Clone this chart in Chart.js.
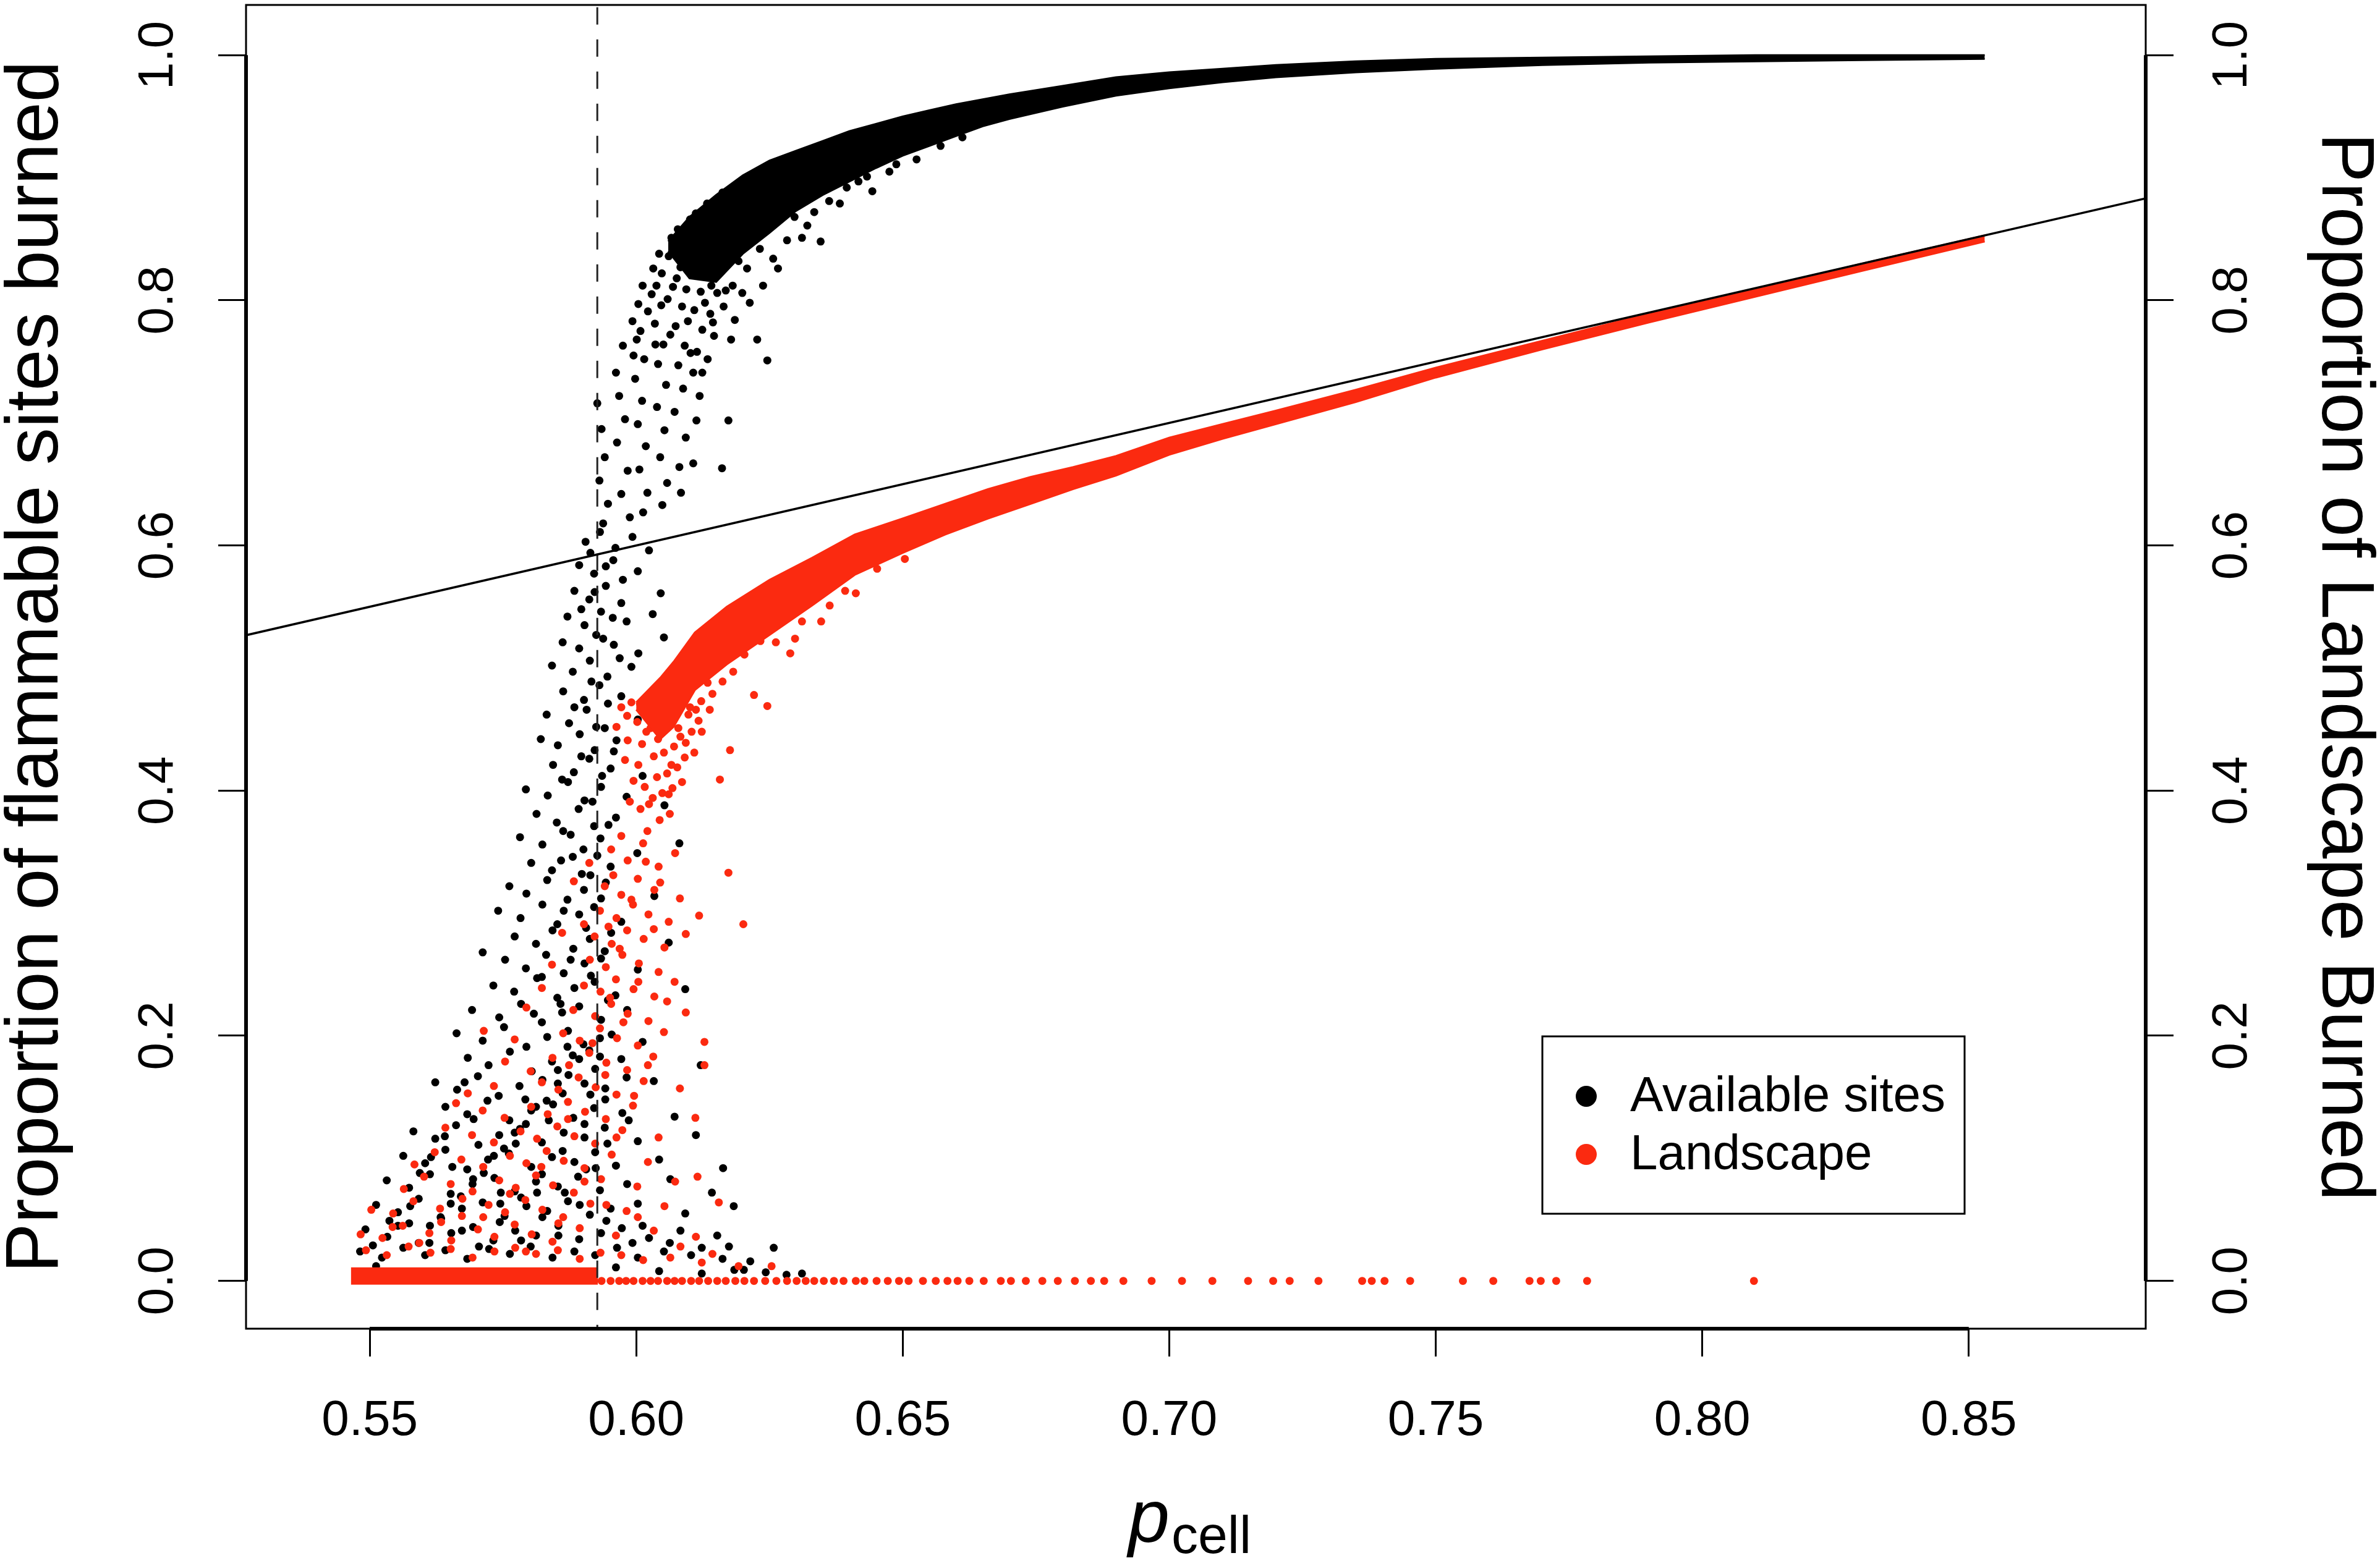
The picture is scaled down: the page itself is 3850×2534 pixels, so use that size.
<!DOCTYPE html>
<html>
<head>
<meta charset="utf-8">
<script src="https://cdn.jsdelivr.net/npm/chart.js@4.4.1/dist/chart.umd.min.js"></script>
<style>
  html, body { margin: 0; padding: 0; background: #fff; }
  canvas { display: block; }
</style>
</head>
<body>
<canvas id="percChart" width="3850" height="2534" style="width:3850px;height:2534px"></canvas>
<script>
// axis ticks
const xTickValues = [0.55, 0.60, 0.65, 0.70, 0.75, 0.80, 0.85];
const yTickValues = [0.0, 0.2, 0.4, 0.6, 0.8, 1.0];

// percolation threshold (dashed) and the 1:1 reference line
const pcThreshold = 0.5927;
const identityX = [0.52, 0.89];

// Available sites: dense upper band (edges)
const availBandX  = [0.606, 0.610, 0.615, 0.620, 0.625, 0.630, 0.635, 0.640, 0.645, 0.650, 0.655, 0.660, 0.665, 0.670, 0.680, 0.690, 0.700, 0.710, 0.720, 0.735, 0.750, 0.770, 0.790, 0.810, 0.830, 0.853];
const availBandHi = [0.848, 0.868, 0.886, 0.902, 0.914, 0.922, 0.930, 0.938, 0.944, 0.950, 0.955, 0.960, 0.964, 0.968, 0.975, 0.982, 0.986, 0.989, 0.992, 0.995, 0.997, 0.998, 0.999, 1.000, 1.000, 1.000];
const availBandLo = [0.840, 0.818, 0.815, 0.838, 0.855, 0.873, 0.886, 0.897, 0.908, 0.918, 0.926, 0.934, 0.942, 0.948, 0.958, 0.967, 0.973, 0.978, 0.982, 0.986, 0.989, 0.992, 0.994, 0.995, 0.996, 0.997];

// Available sites: loose points near the threshold
const availUpperPts = [
  [0.5927,0.716],[0.5935,0.695],[0.5941,0.672],[0.5931,0.653],[0.5947,0.634],[0.5938,0.618],
  [0.5962,0.741],[0.5975,0.763],[0.5968,0.722],[0.5979,0.703],[0.5964,0.684],[0.5984,0.661],[0.5972,0.642],[0.5988,0.623],
  [0.5993,0.783],[0.6004,0.797],[0.6012,0.812],[0.6001,0.768],[0.6015,0.752],[0.5998,0.736],[0.6011,0.718],[0.6003,0.699],[0.6018,0.681],[0.6006,0.662],[0.6021,0.643],[0.6013,0.627],
  [0.6032,0.826],[0.6043,0.838],[0.6038,0.812],[0.6047,0.796],[0.6035,0.781],[0.6051,0.764],[0.6041,0.748],[0.6056,0.731],[0.6039,0.713],[0.6053,0.694],[0.6045,0.672],[0.6058,0.651],[0.6049,0.633],
  [0.6066,0.851],[0.6078,0.858],[0.6071,0.842],[0.6083,0.827],[0.6069,0.811],[0.6086,0.795],[0.6074,0.779],[0.6091,0.763],[0.6079,0.747],[0.6088,0.728],[0.6072,0.709],[0.6093,0.688],[0.6081,0.664],[0.6084,0.643],
  [0.6101,0.866],[0.6112,0.871],[0.6106,0.853],[0.6118,0.838],[0.6103,0.823],[0.6121,0.807],[0.6109,0.792],[0.6124,0.776],[0.6114,0.758],[0.6107,0.741],[0.6119,0.722],[0.6107,0.667],[0.6113,0.702],
  [0.6133,0.879],[0.6142,0.868],[0.6137,0.851],[0.6148,0.836],[0.6131,0.821],[0.6152,0.806],[0.6139,0.789],[0.6146,0.771],[0.6134,0.752],
  [0.6162,0.888],[0.6171,0.874],[0.6158,0.861],[0.6176,0.846],[0.6167,0.829],[0.6181,0.812],[0.6164,0.795],[0.6173,0.702],[0.6161,0.663],[0.6178,0.768],
  [0.6227,0.768],[0.6246,0.751],[0.6238,0.812],[0.6208,0.826],[0.6257,0.834],[0.6283,0.849],[0.6346,0.848],[0.6321,0.861],[0.6417,0.897],[0.6443,0.889],[0.6382,0.879],[0.6475,0.905],
  [0.5995,0.755],[0.6008,0.775],[0.6022,0.791],[0.6029,0.805],[0.6036,0.764],[0.6048,0.822],[0.6061,0.836],[0.6059,0.801],[0.6064,0.772],[0.6076,0.818],
  [0.6089,0.841],[0.6094,0.809],[0.6097,0.783],[0.6102,0.757],[0.6116,0.846],[0.6127,0.829],[0.6129,0.798],[0.6124,0.741],[0.6141,0.812],[0.6144,0.782],
  [0.6153,0.858],[0.6156,0.822],[0.6168,0.808],[0.6185,0.784],[0.6192,0.832],[0.6199,0.806],[0.6213,0.798],[0.6232,0.842],[0.6266,0.826],[0.6297,0.868],
  [0.6311,0.851],[0.6334,0.872],[0.6362,0.881],[0.6395,0.892],[0.6433,0.901],[0.6488,0.911],[0.6526,0.915],[0.6571,0.926],[0.6612,0.933]
];

// Available sites: lower cloud
const availLowerPts = [
  [0.5905,0.603],[0.5932,0.611],[0.5961,0.598],[0.5993,0.607],[0.6024,0.596],
  [0.5893,0.584],[0.5921,0.577],[0.5957,0.588],[0.6003,0.579],
  [0.5884,0.563],[0.5912,0.556],[0.5943,0.567],[0.5972,0.553],[0.6046,0.561],
  [0.5871,0.542],[0.5903,0.535],[0.5934,0.546],[0.5982,0.538],[0.6031,0.544],
  [0.5862,0.521],[0.5893,0.516],[0.5925,0.527],[0.5958,0.519],[0.6004,0.512],[0.6052,0.525],
  [0.5842,0.502],[0.5881,0.497],[0.5913,0.506],[0.5946,0.493],[0.5991,0.501],
  [0.5863,0.481],[0.5902,0.474],[0.5931,0.486],[0.5972,0.477],[0.6024,0.469],
  [0.5832,0.462],[0.5874,0.455],[0.5907,0.466],[0.5941,0.451],[0.6003,0.458],[0.6071,0.463],
  [0.5821,0.442],[0.5853,0.437],[0.5894,0.446],[0.5922,0.433],[0.5963,0.441],
  [0.5844,0.421],[0.5883,0.415],[0.5912,0.426],[0.5952,0.418],[0.6012,0.412],
  [0.5793,0.401],[0.5834,0.396],[0.5872,0.407],[0.5903,0.392],[0.5934,0.403],[0.5982,0.395],[0.6053,0.388],
  [0.5813,0.381],[0.5851,0.374],[0.5892,0.385],[0.5921,0.371],[0.5962,0.378],
  [0.5782,0.362],[0.5824,0.356],[0.5863,0.367],[0.5901,0.352],[0.5933,0.361],[0.6002,0.349],[0.6081,0.357],
  [0.5803,0.341],[0.5842,0.335],[0.5881,0.346],[0.5914,0.331],[0.5952,0.338],
  [0.5762,0.322],[0.5794,0.316],[0.5833,0.327],[0.5871,0.311],[0.5902,0.319],[0.5943,0.325],[0.6034,0.314],
  [0.5741,0.302],[0.5783,0.296],[0.5824,0.307],[0.5852,0.291],[0.5893,0.299],[0.5921,0.305],[0.5972,0.293],
  [0.5712,0.268],[0.5772,0.281],[0.5812,0.275],[0.5843,0.286],[0.5882,0.271],[0.5913,0.279],[0.5953,0.284],[0.6061,0.276],
  [0.5754,0.262],[0.5793,0.255],[0.5831,0.266],[0.5864,0.251],[0.5903,0.259],[0.5934,0.263],[0.6003,0.254],
  [0.5732,0.241],[0.5771,0.236],[0.5814,0.247],[0.5852,0.231],[0.5884,0.239],[0.5922,0.244],[0.5961,0.233],[0.6092,0.238],
  [0.5692,0.221],[0.5743,0.215],[0.5784,0.226],[0.5823,0.211],[0.5861,0.219],[0.5893,0.224],[0.5934,0.213],[0.5983,0.221],
  [0.5663,0.202],[0.5712,0.196],[0.5752,0.207],[0.5794,0.191],[0.5833,0.199],[0.5872,0.204],[0.5901,0.193],[0.5954,0.201],[0.6012,0.195],
  [0.5684,0.182],[0.5723,0.176],[0.5763,0.187],[0.5804,0.171],[0.5842,0.179],[0.5881,0.184],[0.5923,0.173],[0.5972,0.181],[0.6121,0.176],
  [0.5623,0.162],[0.5664,0.156],[0.5703,0.167],[0.5742,0.151],[0.5781,0.159],[0.5824,0.164],[0.5862,0.153],[0.5903,0.161],[0.5942,0.157],[0.6033,0.163],
  [0.5642,0.142],[0.5683,0.136],[0.5721,0.147],[0.5762,0.131],[0.5803,0.139],[0.5844,0.144],[0.5882,0.133],[0.5921,0.141],[0.5974,0.137],[0.6072,0.134],
  [0.5582,0.122],[0.5623,0.116],[0.5662,0.127],[0.5704,0.111],[0.5743,0.119],[0.5782,0.124],[0.5823,0.113],[0.5864,0.121],[0.5903,0.117],[0.5941,0.125],[0.6003,0.114],[0.6112,0.119],
  [0.5563,0.102],[0.5604,0.096],[0.5642,0.107],[0.5683,0.091],[0.5722,0.099],[0.5761,0.104],[0.5803,0.093],[0.5842,0.101],[0.5884,0.097],[0.5923,0.105],[0.5962,0.094],[0.6043,0.099],[0.6163,0.092],
  [0.5532,0.082],[0.5574,0.076],[0.5613,0.087],[0.5652,0.071],[0.5693,0.079],[0.5734,0.084],[0.5772,0.073],[0.5812,0.081],[0.5853,0.077],[0.5891,0.085],[0.5932,0.074],[0.5983,0.079],[0.6064,0.083],[0.6142,0.072],
  [0.5512,0.062],[0.5553,0.056],[0.5592,0.067],[0.5634,0.051],[0.5673,0.059],[0.5712,0.064],[0.5753,0.053],[0.5794,0.061],[0.5833,0.057],[0.5872,0.065],[0.5913,0.054],[0.5952,0.059],[0.6003,0.063],[0.6092,0.055],[0.6183,0.061],
  [0.5492,0.042],[0.5533,0.036],[0.5574,0.047],[0.5612,0.031],[0.5653,0.039],[0.5694,0.044],[0.5732,0.033],[0.5773,0.041],[0.5812,0.037],[0.5854,0.045],[0.5893,0.034],[0.5934,0.039],[0.5973,0.043],[0.6024,0.035],[0.6083,0.041],[0.6152,0.037],
  [0.5482,0.024],[0.5523,0.019],[0.5563,0.027],[0.5604,0.021],[0.5642,0.025],[0.5683,0.018],[0.5724,0.026],[0.5763,0.022],[0.5802,0.028],[0.5843,0.019],[0.5884,0.024],[0.5923,0.021],[0.5964,0.027],[0.6003,0.019],[0.6052,0.024],[0.6103,0.021],[0.6162,0.018],[0.6214,0.016],[0.6258,0.027],
  [0.6043,0.008],[0.6123,0.006],[0.6184,0.009],[0.6243,0.007],[0.6282,0.005],[0.6311,0.006],
  [0.5592,0.031],[0.5633,0.052],[0.5671,0.069],[0.5714,0.088],[0.5752,0.108],[0.5793,0.128],[0.5832,0.147],[0.5873,0.168],[0.5912,0.188],
  [0.5613,0.045],[0.5652,0.063],[0.5694,0.083],[0.5733,0.102],[0.5772,0.121],[0.5812,0.142],[0.5853,0.161],[0.5893,0.181],[0.5932,0.198],
  [0.5744,0.048],[0.5784,0.068],[0.5823,0.087],[0.5862,0.106],[0.5903,0.128],[0.5942,0.148],[0.5982,0.166],
  [0.5784,0.033],[0.5824,0.052],[0.5866,0.072],[0.5906,0.091],[0.5946,0.112],[0.5986,0.131],
  [0.5705,0.028],[0.5746,0.072],[0.5655,0.093],[0.5695,0.132],[0.5615,0.101],[0.5576,0.061],[0.5537,0.049],[0.5506,0.029],
  [0.5914,0.594],[0.5943,0.583],[0.5975,0.572],[0.5922,0.562],[0.5956,0.541],[0.5897,0.548],[0.5938,0.524],[0.5969,0.508],[0.5916,0.489],[0.5947,0.471],
  [0.5884,0.468],[0.5925,0.452],[0.5958,0.432],[0.5897,0.428],[0.5936,0.412],[0.5861,0.409],[0.5918,0.391],[0.5948,0.372],[0.5877,0.364],[0.5927,0.347],
  [0.5859,0.343],[0.5898,0.332],[0.5934,0.312],[0.5864,0.302],[0.5906,0.288],[0.5941,0.269],[0.5877,0.262],[0.5823,0.248],[0.5915,0.249],[0.5858,0.226],
  [0.5947,0.229],[0.5808,0.218],[0.5871,0.191],[0.5932,0.183],[0.5853,0.172],[0.5792,0.148],[0.5914,0.152],[0.5836,0.131],[0.5774,0.112],[0.5924,0.092],
  [0.5814,0.072],[0.5745,0.063],[0.5894,0.062],[0.5673,0.041],[0.5944,0.049],[0.5854,0.037],[0.5962,0.011],[0.5993,0.031],[0.6012,0.045],[0.6063,0.031],
  [0.6123,0.027],[0.6174,0.028],[0.6202,0.009],[0.5512,0.012],[0.5553,0.045],[0.5594,0.088],[0.5641,0.118],[0.5678,0.162]
];

// Landscape: dense band
const landBandX  = [0.600, 0.6045, 0.607, 0.611, 0.617, 0.625, 0.633, 0.641, 0.650, 0.658, 0.666, 0.674, 0.682, 0.690, 0.700, 0.710, 0.720, 0.735, 0.750, 0.770, 0.790, 0.810, 0.830, 0.853];
const landBandHi = [0.472, 0.492, 0.505, 0.529, 0.550, 0.572, 0.590, 0.609, 0.622, 0.634, 0.646, 0.656, 0.664, 0.673, 0.688, 0.699, 0.710, 0.727, 0.745, 0.767, 0.789, 0.809, 0.830, 0.853];
const landBandLo = [0.466, 0.442, 0.452, 0.482, 0.503, 0.527, 0.551, 0.576, 0.594, 0.609, 0.622, 0.634, 0.646, 0.657, 0.674, 0.687, 0.699, 0.717, 0.737, 0.760, 0.782, 0.803, 0.824, 0.848];

// Landscape: loose points around the knee
const landMidPts = [
  [0.5963,0.452],[0.5972,0.468],[0.5984,0.441],[0.5991,0.472],[0.5979,0.425],[0.5995,0.408],[0.5988,0.391],[0.6002,0.456],[0.6011,0.438],[0.6004,0.421],
  [0.6016,0.403],[0.6008,0.385],[0.6021,0.367],[0.6027,0.451],[0.6033,0.428],[0.6039,0.411],[0.6031,0.394],[0.6044,0.376],[0.6052,0.431],[0.6058,0.414],
  [0.6049,0.398],[0.6063,0.381],[0.6071,0.436],[0.6077,0.419],[0.6068,0.402],[0.6083,0.444],[0.6091,0.427],[0.6098,0.462],[0.6104,0.448],[0.6112,0.466],
  [0.6122,0.473],[0.6134,0.488],[0.6157,0.409],[0.6176,0.433],[0.6201,0.291],[0.6173,0.333],[0.6128,0.195],[0.6128,0.176],[0.6246,0.469],[0.6221,0.478],
  [0.6347,0.538],[0.6289,0.512],[0.6412,0.561],[0.6298,0.524],[0.6118,0.298],[0.6155,0.064],[0.6111,0.133],[0.6115,0.085],
  [0.5983,0.461],[0.6007,0.471],[0.6019,0.448],[0.6024,0.389],[0.6037,0.466],[0.6041,0.442],[0.6054,0.452],[0.6061,0.397],[0.6066,0.421],[0.6079,0.451],
  [0.6086,0.407],[0.6093,0.439],[0.6101,0.468],[0.6109,0.431],[0.6117,0.457],[0.6123,0.448],[0.6138,0.466],[0.6143,0.479],[0.6162,0.489],[0.6182,0.497],
  [0.6203,0.511],[0.6233,0.522],[0.6262,0.521],[0.6311,0.538],[0.6363,0.551],[0.6392,0.563],[0.6452,0.581],[0.6504,0.589]
];

// Landscape: lower cloud
const landLowerPts = [
  [0.5953,0.352],[0.5984,0.343],[0.6013,0.357],[0.6042,0.338],[0.6073,0.349],[0.5912,0.341],
  [0.5941,0.322],[0.5972,0.315],[0.6003,0.328],[0.6034,0.319],[0.6082,0.312],[0.5883,0.326],
  [0.5932,0.302],[0.5963,0.296],[0.5994,0.307],[0.6023,0.299],[0.6061,0.293],[0.5902,0.291],
  [0.5922,0.281],[0.5954,0.275],[0.5983,0.286],[0.6014,0.279],[0.6053,0.272],[0.5861,0.284],[0.6093,0.283],
  [0.5913,0.262],[0.5943,0.256],[0.5974,0.266],[0.6005,0.259],[0.6042,0.252],[0.5842,0.258],
  [0.5902,0.241],[0.5933,0.236],[0.5962,0.246],[0.5995,0.238],[0.6034,0.232],[0.6072,0.244],[0.5823,0.239],
  [0.5882,0.221],[0.5923,0.216],[0.5953,0.226],[0.5984,0.218],[0.6023,0.212],[0.5794,0.223],[0.6093,0.219],
  [0.5863,0.202],[0.5894,0.196],[0.5932,0.206],[0.5964,0.198],[0.6003,0.192],[0.6052,0.203],[0.5772,0.197],[0.5714,0.204],
  [0.5843,0.182],[0.5874,0.176],[0.5912,0.186],[0.5944,0.178],[0.5983,0.172],[0.6032,0.183],[0.5754,0.179],[0.5802,0.171],
  [0.5823,0.162],[0.5854,0.156],[0.5892,0.166],[0.5924,0.158],[0.5963,0.152],[0.6014,0.163],[0.5733,0.159],[0.5684,0.153],[0.6082,0.157],
  [0.5803,0.142],[0.5834,0.136],[0.5872,0.146],[0.5904,0.138],[0.5943,0.132],[0.5994,0.143],[0.5712,0.139],[0.5753,0.133],[0.5662,0.145],
  [0.5783,0.122],[0.5814,0.116],[0.5852,0.126],[0.5884,0.118],[0.5923,0.112],[0.5974,0.123],[0.5692,0.119],[0.5733,0.113],[0.5642,0.125],[0.6042,0.117],
  [0.5763,0.102],[0.5794,0.096],[0.5832,0.106],[0.5864,0.098],[0.5903,0.092],[0.5954,0.103],[0.5672,0.099],[0.5713,0.093],[0.5622,0.105],[0.6022,0.097],[0.5584,0.095],
  [0.5743,0.082],[0.5774,0.076],[0.5812,0.086],[0.5844,0.078],[0.5883,0.072],[0.5934,0.083],[0.5652,0.079],[0.5693,0.073],[0.5602,0.085],[0.6002,0.077],[0.5564,0.075],[0.6073,0.081],
  [0.5723,0.062],[0.5754,0.056],[0.5792,0.066],[0.5824,0.058],[0.5863,0.052],[0.5914,0.063],[0.5632,0.059],[0.5673,0.053],[0.5582,0.065],[0.5982,0.057],[0.5544,0.055],[0.6053,0.061],[0.5503,0.058],
  [0.5703,0.042],[0.5734,0.036],[0.5772,0.046],[0.5804,0.038],[0.5843,0.032],[0.5894,0.043],[0.5612,0.039],[0.5653,0.033],[0.5562,0.045],[0.5962,0.037],[0.5524,0.035],[0.6033,0.041],[0.5483,0.038],[0.6112,0.036],
  [0.5493,0.025],[0.5532,0.021],[0.5573,0.028],[0.5614,0.023],[0.5652,0.026],[0.5693,0.019],[0.5734,0.024],[0.5773,0.027],[0.5812,0.022],[0.5853,0.025],[0.5894,0.018],[0.5933,0.023],[0.5972,0.021],[0.6013,0.017],[0.6064,0.019],[0.6123,0.015],[0.6254,0.012],
  [0.5972,0.363],[0.6018,0.342],[0.5957,0.331],[0.6045,0.325],[0.5991,0.311],[0.5948,0.289],[0.6033,0.287],[0.5969,0.271],[0.6004,0.244],[0.5951,0.231],
  [0.6058,0.228],[0.5976,0.211],[0.5918,0.194],[0.6022,0.176],[0.5942,0.168],[0.5996,0.151],[0.5872,0.132],[0.5963,0.117],[0.5822,0.093],[0.5903,0.081],
  [0.5763,0.071],[0.5944,0.062],[0.5713,0.052],[0.5854,0.047],[0.5793,0.024],[0.5634,0.048],[0.5593,0.031],[0.5674,0.067],[0.5543,0.044],[0.6003,0.052],
  [0.6083,0.028],[0.6143,0.022],[0.6192,0.012]
];

// Landscape: solid strip at zero below the threshold, then scattered zeros
const landStripX = [0.5465, 0.5928];
const landStripY = [0.004, 0.004];
const landZeroX = [
  0.5935,0.5952,0.5968,0.5981,0.5995,0.6012,0.6027,0.6041,0.6058,0.6072,0.6086,0.6103,0.6118,0.6135,0.6152,0.6168,0.6186,0.6203,0.6221,0.6242,
  0.6263,0.6283,0.6301,0.6318,0.6334,0.6352,0.6371,0.6389,0.6412,0.6428,0.6451,0.6472,0.6493,0.6511,0.6538,0.6562,0.6584,0.6603,0.6625,0.6652,
  0.6684,0.6703,0.6731,0.6762,0.6791,0.6823,0.6853,0.6878,0.6914,0.6967,0.7024,0.7081,0.7148,0.7195,0.7226,0.7280,0.7362,0.7380,0.7404,0.7452,
  0.7551,0.7608,0.7676,0.7697,0.7726,0.7784,0.8097
];

const RED = '#fb2a10';
const FONT = "'Liberation Sans', Arial, Helvetica, sans-serif";

const pts = arr => arr.map(([x, y]) => ({ x, y }));
const zip = (xs, ys) => xs.map((x, i) => ({ x, y: ys[i] }));

function dots(label, data, color, order) {
  return { type: 'scatter', label, data, order, backgroundColor: color, borderWidth: 0, pointRadius: 6.5, pointHoverRadius: 6.5 };
}
function band(label, data, color, order, fill) {
  return { type: 'line', label, data, order, fill, borderColor: color, backgroundColor: color, borderWidth: 3, pointRadius: 0, tension: 0 };
}

const datasets = [
  { type: 'line', label: '1:1', data: zip(identityX, identityX), order: 0, borderColor: '#000', borderWidth: 3.5, pointRadius: 0, fill: false },
  { type: 'line', label: 'p_c', data: [{ x: pcThreshold, y: -0.05 }, { x: pcThreshold, y: 1.05 }], order: 1, borderColor: '#222', borderWidth: 3, borderDash: [28, 24], pointRadius: 0, fill: false },
  band('Landscape', zip(landBandX, landBandHi), RED, 2, '+1'),
  band('Landscape', zip(landBandX, landBandLo), RED, 2, false),
  { type: 'line', label: 'Landscape', data: zip(landStripX, landStripY), order: 2, borderColor: RED, borderWidth: 28, borderCapStyle: 'butt', pointRadius: 0, fill: false },
  dots('Landscape', pts(landMidPts), RED, 2),
  dots('Landscape', pts(landLowerPts), RED, 2),
  dots('Landscape', landZeroX.map(x => ({ x, y: 0 })), RED, 2),
  band('Available sites', zip(availBandX, availBandHi), '#000', 3, '+1'),
  band('Available sites', zip(availBandX, availBandLo), '#000', 3, false),
  dots('Available sites', pts(availUpperPts), '#000', 3),
  dots('Available sites', pts(availLowerPts), '#000', 3)
];

// frame, R-style axis lines, x title and legend box
const framePlugin = {
  id: 'frame',
  afterDraw(chart) {
    const { ctx, chartArea: a, scales } = chart;
    ctx.save();
    ctx.strokeStyle = '#000';
    ctx.lineWidth = 3;
    ctx.strokeRect(a.left, a.top, a.right - a.left, a.bottom - a.top);

    ctx.lineWidth = 6;
    ctx.beginPath();
    const x0 = scales.x.getPixelForValue(xTickValues[0]);
    const x1 = scales.x.getPixelForValue(xTickValues[xTickValues.length - 1]);
    const y0 = scales.y.getPixelForValue(yTickValues[0]);
    const y1 = scales.y.getPixelForValue(yTickValues[yTickValues.length - 1]);
    ctx.moveTo(x0, a.bottom); ctx.lineTo(x1, a.bottom);
    ctx.moveTo(a.left, y0); ctx.lineTo(a.left, y1);
    ctx.moveTo(a.right, y0); ctx.lineTo(a.right, y1);
    ctx.stroke();

    // x title: italic p with subscript "cell"
    ctx.fillStyle = '#000';
    ctx.textBaseline = 'alphabetic';
    ctx.font = 'italic 120px ' + FONT;
    ctx.textAlign = 'right';
    ctx.fillText('p', 1892, 2495);
    ctx.font = '86px ' + FONT;
    ctx.textAlign = 'left';
    ctx.fillText('cell', 1895, 2513);

    // legend
    const lx = 2495, ly = 1677, lw = 683, lh = 287;
    ctx.fillStyle = '#fff';
    ctx.fillRect(lx, ly, lw, lh);
    ctx.lineWidth = 3;
    ctx.strokeRect(lx, ly, lw, lh);
    const items = [['Available sites', '#000', 1774], ['Landscape', RED, 1868]];
    ctx.font = '80px ' + FONT;
    ctx.textBaseline = 'middle';
    items.forEach(([text, color, yy]) => {
      ctx.fillStyle = color;
      ctx.beginPath();
      ctx.arc(2566, yy, 17, 0, Math.PI * 2);
      ctx.fill();
      ctx.fillStyle = '#000';
      ctx.fillText(text, 2637, yy + 2);
    });
    ctx.restore();
  }
};

const tickFont = { family: FONT, size: 80 };
const titleFont = { family: FONT, size: 120, lineHeight: 1 };
const tickGrid = { display: true, drawOnChartArea: false, drawTicks: true, tickLength: 45, tickWidth: 3, tickColor: '#000' };

function noPad(s) {
  s.paddingTop = 0; s.paddingBottom = 0; s.paddingLeft = 0; s.paddingRight = 0;
}

function yAxis(position, title, width) {
  return {
    type: 'linear', position, min: -0.039, max: 1.041,
    afterBuildTicks: s => { s.ticks = yTickValues.map(v => ({ value: v })); },
    afterFit: s => { s.width = width; noPad(s); },
    grid: tickGrid,
    border: { display: false },
    ticks: { font: tickFont, color: '#000', padding: 40, minRotation: 90, maxRotation: 90, crossAlign: 'center', autoSkip: false, callback: v => v.toFixed(1) },
    title: { display: true, text: title, color: '#000', font: titleFont, padding: 0 }
  };
}

const myChart = new Chart(document.querySelector('#percChart'), {
  type: 'scatter',
  data: { datasets },
  options: {
    responsive: false,
    animation: false,
    devicePixelRatio: 1,
    layout: { padding: { top: 8, left: 0, right: 0, bottom: 0 } },
    plugins: { legend: { display: false }, tooltip: { enabled: false } },
    scales: {
      x: {
        type: 'linear', position: 'bottom', min: 0.5268, max: 0.8832,
        afterBuildTicks: s => { s.ticks = xTickValues.map(v => ({ value: v })); },
        afterFit: s => { s.height = 384; noPad(s); },
        grid: tickGrid,
        border: { display: false },
        ticks: { font: tickFont, color: '#000', padding: 57, maxRotation: 0, autoSkip: false, callback: v => v.toFixed(2) }
      },
      y: yAxis('left', 'Proportion of flammable sites burned', 398),
      y2: yAxis('right', 'Proportion of Landscape Burned', 379)
    }
  },
  plugins: [framePlugin]
});
</script>
</body>
</html>
